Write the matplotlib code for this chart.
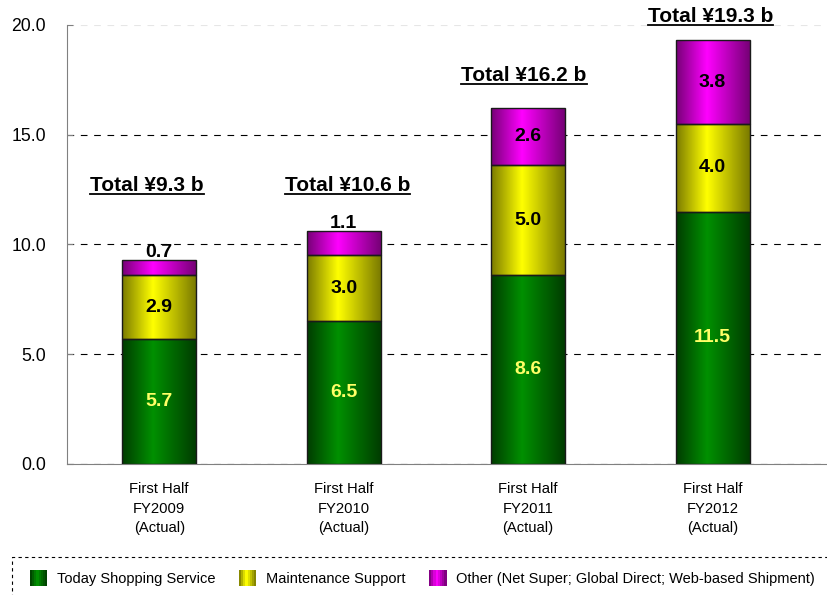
import numpy as np
import matplotlib
matplotlib.use("Agg")
import matplotlib.pyplot as plt
from matplotlib.colors import LinearSegmentedColormap
from matplotlib.patches import Rectangle
from matplotlib.legend_handler import HandlerTuple
from matplotlib.lines import Line2D

plt.rcParams["font.family"] = ["Liberation Sans", "DejaVu Sans"]

categories = ["First Half\nFY2009\n(Actual)", "First Half\nFY2010\n(Actual)",
              "First Half\nFY2011\n(Actual)", "First Half\nFY2012\n(Actual)"]
today_shopping = [5.7, 6.5, 8.6, 11.5]
maintenance = [2.9, 3.0, 5.0, 4.0]
other = [0.7, 1.1, 2.6, 3.8]
totals = [9.3, 10.6, 16.2, 19.3]
series_names = ["Today Shopping Service", "Maintenance Support",
                "Other (Net Super; Global Direct; Web-based Shipment)"]

# (dark edge, bright centre) per series
shades = [("#003c00", "#009000"), ("#7a7a00", "#ffff00"), ("#760076", "#ff00ff")]
label_colors = ["#ffff66", "black", "black"]
# where the "Total" captions sit
total_y = [12.7, 12.7, 17.7, 20.4]
total_dx = [-0.065, 0.022, -0.022, -0.011]

fig = plt.figure(figsize=(8.27, 5.95), dpi=100)
ax = fig.add_axes([0.081, 0.2202, 0.919, 0.7378])

x = np.arange(len(categories))
width = 0.40
bottom = np.zeros(len(categories))
grad = np.linspace(0, 1, 256).reshape(1, -1)
for k, vals in enumerate([today_shopping, maintenance, other]):
    dark, bright = shades[k]
    cmap = LinearSegmentedColormap.from_list("g%d" % k, [(0, dark), (0.42, bright), (1, dark)])
    bars = ax.bar(x, vals, width, bottom=bottom, facecolor="none",
                  edgecolor="#1a1a1a", linewidth=1.0, zorder=3)
    for b in bars:
        bx, by = b.get_x(), b.get_y()
        im = ax.imshow(grad, cmap=cmap, aspect="auto", zorder=2,
                       extent=[bx, bx + b.get_width(), by, by + b.get_height()])
        im.set_clip_path(b)
    for i, v in enumerate(vals):
        if v >= 1.5:
            yy = bottom[i] + v / 2
        else:
            yy = bottom[i] + v + 0.35
        ax.text(x[i], yy, "%.1f" % v, ha="center", va="center", fontsize=14,
                fontweight="bold", color=label_colors[k], zorder=5)
    bottom += np.array(vals)

ax.set_xlim(-0.5, 3.62)
ax.set_ylim(0, 20)
ax.set_yticks([0, 5, 10, 15, 20])
ax.set_yticklabels(["%.1f" % t for t in [0, 5, 10, 15, 20]], fontsize=12.7)
ax.set_xticks(x)
ax.set_xticklabels(categories, fontsize=10.6, linespacing=1.5)
ax.tick_params(axis="x", length=0, pad=13)
ax.tick_params(axis="y", direction="in", length=4, pad=15, color="#808080")
for s in ["top", "right"]:
    ax.spines[s].set_visible(False)
for s in ["left", "bottom"]:
    ax.spines[s].set_color("#808080")
ax.yaxis.grid(True, color="black", linestyle=(0, (6, 6)), linewidth=0.8, zorder=0)
ax.get_ygridlines()[-1].set_color("#e6e6e6")
ax.set_axisbelow(True)

fig.canvas.draw()
renderer = fig.canvas.get_renderer()
for i, t in enumerate(totals):
    txt = ax.text(x[i] + total_dx[i], total_y[i], "Total ¥%.1f b" % t, ha="center",
                  va="center", fontsize=15, fontweight="bold", zorder=5)
    bb = txt.get_window_extent(renderer).transformed(fig.transFigure.inverted())
    fig.add_artist(Line2D([bb.x0, bb.x1], [bb.y0 + 0.002, bb.y0 + 0.002],
                          color="black", linewidth=1.3))

# legend swatches with a left-to-right shade
handles = []
for dark, bright in shades:
    cm = LinearSegmentedColormap.from_list("h", [(0, dark), (0.42, bright), (1, dark)])
    handles.append(tuple(Rectangle((0, 0), 1, 1, facecolor=cm(p), edgecolor="none")
                         for p in np.linspace(0.05, 0.95, 8)))
fig.legend(handles, series_names, loc="center left", bbox_to_anchor=(0.029, 0.029),
           ncol=3, frameon=False, fontsize=10.5, handlelength=1.2, handleheight=1.3,
           handletextpad=0.67, columnspacing=1.6, borderaxespad=0,
           handler_map={tuple: HandlerTuple(ndivide=None, pad=0)})
fig.add_artist(Rectangle((12 / 827, -0.05), 1.0, 0.114, transform=fig.transFigure,
                         fill=False, edgecolor="black", linestyle=(0, (3, 3)), linewidth=0.8))

fig.savefig("out.png", dpi=100)
